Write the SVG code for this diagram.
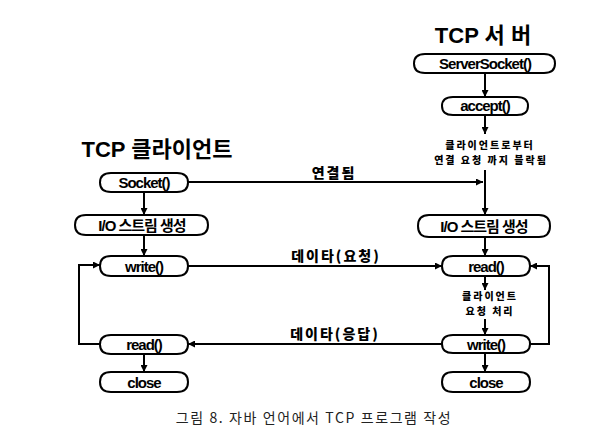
<svg xmlns="http://www.w3.org/2000/svg" width="596" height="447" viewBox="0 0 596 447">
<defs>
<marker id="ah" viewBox="0 0 10 10" refX="10" refY="5" markerWidth="7" markerHeight="7" markerUnits="userSpaceOnUse" orient="auto">
<path d="M0,0 L10,5 L0,10 Z" fill="#000"/>
</marker>
</defs>
<style>
.n{fill:#fff;stroke:#000;stroke-width:2}
.t{font-family:"Liberation Sans","Noto Sans CJK KR",sans-serif;font-weight:bold;font-size:15px;letter-spacing:-1px;text-anchor:middle;fill:#000}
.k{font-family:"Noto Sans CJK KR",sans-serif;font-weight:900;font-size:14px;text-anchor:middle;fill:#000}
.h{font-family:"Liberation Sans","Noto Sans CJK KR",sans-serif;font-weight:bold;font-size:22px;text-anchor:middle;fill:#000}
.s{font-family:"Noto Sans CJK KR",sans-serif;font-weight:900;font-size:10px;letter-spacing:2px;text-anchor:middle;fill:#000}
.c{fill:none;stroke:#000;stroke-width:2}
.a{fill:none;stroke:#000;stroke-width:2;marker-end:url(#ah)}
.cap{font-family:"Noto Sans CJK KR",sans-serif;font-size:14px;letter-spacing:1.6px;text-anchor:middle;fill:#222}
</style>
<rect width="596" height="447" fill="#fff"/>
<text class="h" x="483" y="43">TCP 서 버</text>
<text class="h" x="157" y="157">TCP 클라이언트</text>
<g id="connectors">
<line class="a" x1="485" y1="73" x2="485" y2="97"/>
<line class="a" x1="485" y1="115" x2="485" y2="134"/>
<line class="c" x1="485" y1="170" x2="485" y2="200"/>
<line class="a" x1="485" y1="195" x2="485" y2="215"/>
<line class="a" x1="188" y1="182" x2="483" y2="182"/>
<line class="a" x1="144" y1="192" x2="144" y2="215"/>
<line class="a" x1="144" y1="235" x2="144" y2="256"/>
<line class="a" x1="485" y1="237" x2="485" y2="256"/>
<line class="a" x1="188" y1="266" x2="442" y2="266"/>
<line class="a" x1="485" y1="277" x2="485" y2="290"/>
<line class="a" x1="485" y1="319" x2="485" y2="335"/>
<line class="a" x1="485" y1="353" x2="485" y2="372"/>
<line class="a" x1="442" y1="344" x2="188" y2="344"/>
<line class="a" x1="144" y1="354" x2="144" y2="372"/>
<polyline class="a" points="100,344 79,344 79,265 100,265"/>
<polyline class="a" points="530,344 549,344 549,266 530,266"/>
</g>
<g id="server-socket">
<path class="n" d="M425,54 H544 Q555,54 555,63.5 Q555,73 544,73 H425 Q414,73 414,63.5 Q414,54 425,54 Z"/>
<text class="t" x="485" y="69">ServerSocket()</text>
</g>
<g id="accept">
<path class="n" d="M453,97 H517 Q528,97 528,106 Q528,115 517,115 H453 Q442,115 442,106 Q442,97 453,97 Z"/>
<text class="t" x="485" y="111">accept()</text>
</g>
<g id="block-note">
<text class="s" x="490" y="149">클라이언트로부터</text>
<text class="s" x="491" y="164">연결 요청 까지 블락됨</text>
</g>
<g id="socket">
<path class="n" d="M111,173 H177 Q188,173 188,182.5 Q188,192 177,192 H111 Q100,192 100,182.5 Q100,173 111,173 Z"/>
<text class="t" x="144" y="188">Socket()</text>
</g>
<text class="k" x="334" y="178" letter-spacing="2">연결됨</text>
<g id="client-io">
<path class="n" d="M86,215 H197 Q208,215 208,225 Q208,235 197,235 H86 Q75,235 75,225 Q75,215 86,215 Z"/>
<text class="t" x="142" y="230.5" letter-spacing="-0.5">I/O 스트림 생성</text>
</g>
<g id="server-io">
<path class="n" d="M429,215 H539 Q550,215 550,226 Q550,237 539,237 H429 Q418,237 418,226 Q418,215 429,215 Z"/>
<text class="t" x="484" y="231.5" letter-spacing="-0.5">I/O 스트림 생성</text>
</g>
<g id="client-write">
<path class="n" d="M111,256 H177 Q188,256 188,266 Q188,276 177,276 H111 Q100,276 100,266 Q100,256 111,256 Z"/>
<text class="t" x="144" y="271.5">write()</text>
</g>
<text class="k" x="336" y="261" letter-spacing="2">데이타(요청)</text>
<g id="server-read">
<path class="n" d="M453,256 H519 Q530,256 530,266 Q530,276 519,276 H453 Q442,276 442,266 Q442,256 453,256 Z"/>
<text class="t" x="486" y="271.5">read()</text>
</g>
<g id="process-note">
<text class="s" x="490" y="300">클라이언트</text>
<text class="s" x="490" y="315">요청 처리</text>
</g>
<text class="k" x="335" y="339" letter-spacing="2">데이타(응답)</text>
<g id="client-read">
<path class="n" d="M111,335 H177 Q188,335 188,344.5 Q188,354 177,354 H111 Q100,354 100,344.5 Q100,335 111,335 Z"/>
<text class="t" x="144" y="350">read()</text>
</g>
<g id="server-write">
<path class="n" d="M453,335 H519 Q530,335 530,344 Q530,353 519,353 H453 Q442,353 442,344 Q442,335 453,335 Z"/>
<text class="t" x="486" y="349.5">write()</text>
</g>
<g id="client-close">
<path class="n" d="M111,372 H177 Q188,372 188,382 Q188,392 177,392 H111 Q100,392 100,382 Q100,372 111,372 Z"/>
<text class="t" x="144" y="387.5">close</text>
</g>
<g id="server-close">
<path class="n" d="M453,372 H519 Q530,372 530,382 Q530,392 519,392 H453 Q442,392 442,382 Q442,372 453,372 Z"/>
<text class="t" x="486" y="387.5">close</text>
</g>
<text class="cap" x="314" y="423">그림 8. 자바 언어에서 TCP 프로그램 작성</text>
</svg>
